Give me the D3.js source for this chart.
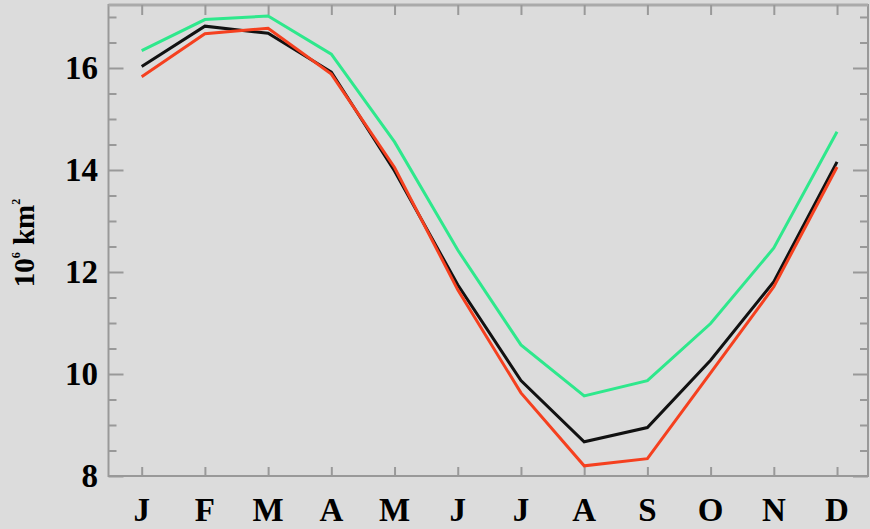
<!DOCTYPE html>
<html><head><meta charset="utf-8">
<script src="https://cdn.jsdelivr.net/npm/d3@7"></script>
<style>
html,body{margin:0;padding:0;background:#dcdcdc;}
svg{display:block;}
</style></head>
<body>
<script>
const months = ["J","F","M","A","M","J","J","A","S","O","N","D"];
const seriesGreen = [16.34,16.95,17.02,16.27,14.55,12.43,10.57,9.57,9.87,10.99,12.47,14.75];
const seriesBlack = [16.03,16.82,16.68,15.92,13.98,11.75,9.87,8.67,8.95,10.27,11.81,14.16];
const seriesRed   = [15.83,16.67,16.78,15.88,14.05,11.65,9.63,8.20,8.34,10.02,11.71,14.06];
const yMajorTicks = [8,10,12,14,16];
const yLabel = ["10","6"," km","2"];

const W = 870, H = 529;
const L = 108.5, R = 868, T = 5, B = 476;
const svg = d3.select("body").append("svg").attr("width",W).attr("height",H);
svg.append("rect").attr("width",W).attr("height",H).attr("fill","#dcdcdc");

const x = d3.scaleLinear().domain([-0.525, 11.49]).range([L, R]);
const y = d3.scaleLinear().domain([8, 17.235]).range([B, T]);

const axisColor = "#999";
const minor = d3.range(8, 17.01, 0.5).filter(v => yMajorTicks.indexOf(v) < 0);

// frame
svg.append("rect").attr("x",L).attr("y",T).attr("width",R-L).attr("height",B-T)
  .attr("fill","none").attr("stroke",axisColor).attr("stroke-width",2);
svg.append("line").attr("x1",L).attr("x2",R).attr("y1",T).attr("y2",T)
  .attr("stroke","#aaa").attr("stroke-width",3);

function styleAxis(g){
  g.select(".domain").remove();
  g.selectAll(".tick line").attr("stroke",axisColor).attr("stroke-width",2);
  g.selectAll("text").remove();
}
svg.append("g").attr("transform",`translate(${L},0)`)
  .call(d3.axisRight(y).tickValues(yMajorTicks).tickSize(15)).call(styleAxis);
svg.append("g").attr("transform",`translate(${L},0)`)
  .call(d3.axisRight(y).tickValues(minor).tickSize(8)).call(styleAxis);
svg.append("g").attr("transform",`translate(${R},0)`)
  .call(d3.axisLeft(y).tickValues(yMajorTicks).tickSize(15)).call(styleAxis);
svg.append("g").attr("transform",`translate(${R},0)`)
  .call(d3.axisLeft(y).tickValues(minor).tickSize(8)).call(styleAxis);
const idx = d3.range(months.length);
svg.append("g").attr("transform",`translate(0,${B})`)
  .call(d3.axisTop(x).tickValues(idx).tickSize(9)).call(styleAxis);
svg.append("g").attr("transform",`translate(0,${T})`)
  .call(d3.axisBottom(x).tickValues(idx).tickSize(10)).call(styleAxis);

const font = "'Liberation Serif','Times New Roman',serif";
svg.append("g").selectAll("text").data(yMajorTicks).join("text")
  .attr("x", 98).attr("y", d => y(d)).attr("dy","0.34em")
  .attr("text-anchor","end").attr("font-family",font).attr("font-weight","bold")
  .attr("font-size",33).attr("fill","#000").text(d => d);
svg.append("g").selectAll("text").data(idx).join("text")
  .attr("x", d => x(d)).attr("y", 521)
  .attr("text-anchor","middle").attr("font-family",font).attr("font-weight","bold")
  .attr("font-size",33).attr("fill","#000").text(d => months[d]);

const yl = svg.append("text").attr("transform",`translate(34,243) rotate(-90)`)
  .attr("text-anchor","middle").attr("font-family",font).attr("font-weight","bold")
  .attr("font-size",29).attr("fill","#000");
yl.append("tspan").text(yLabel[0]);
yl.append("tspan").attr("font-size",12).attr("dy",-14).text(yLabel[1]);
yl.append("tspan").attr("dy",14).text(yLabel[2]);
yl.append("tspan").attr("font-size",12).attr("dy",-14).text(yLabel[3]);

const line = d3.line().x((d,i) => x(i)).y(d => y(d));
const series = [
  {v: seriesGreen, c: "#2ee88c"},
  {v: seriesBlack, c: "#111"},
  {v: seriesRed, c: "#f5401f"}
];
svg.append("g").selectAll("path").data(series).join("path")
  .attr("d", d => line(d.v)).attr("fill","none").attr("stroke", d => d.c)
  .attr("stroke-width",3).attr("stroke-linejoin","miter");
</script>
</body></html>
